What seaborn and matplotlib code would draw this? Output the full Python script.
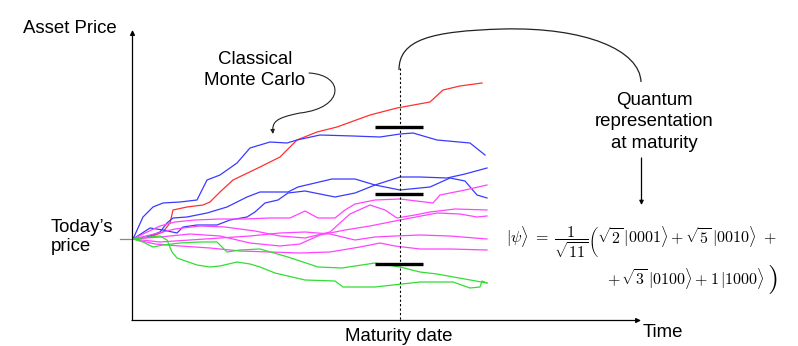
import pandas as pd
import seaborn as sns
import matplotlib.pyplot as plt
from matplotlib.path import Path
from matplotlib.patches import PathPatch, FancyArrowPatch

# all coordinates are in picture pixels (x right, y down)
red_x = [133, 150, 163, 170, 173, 187, 203, 210, 220, 233, 260, 280, 297, 317, 337, 370, 397, 430, 443, 460, 482]
red_y = [239, 237, 232, 223, 210, 207, 205, 202, 192, 180, 167, 157, 140, 132, 127, 115, 108, 102, 90, 86, 83]

blue_a_x = [133, 143, 153, 163, 180, 197, 202, 207, 220, 237, 250, 270, 287, 297, 320, 353, 380, 400, 413, 437, 470, 485]
blue_a_y = [239, 217, 207, 203, 202, 200, 190, 180, 175, 163, 148, 142, 143, 140, 135, 136, 137, 134, 133, 140, 143, 155]

blue_b_x = [133, 147, 160, 167, 173, 187, 207, 227, 247, 260, 288, 298, 332, 355, 375, 400, 430, 450, 465, 477, 487]
blue_b_y = [239, 237, 232, 223, 218, 217, 213, 207, 197, 192, 192, 187, 179, 179, 185, 190, 187, 178, 181, 195, 198]

blue_c_x = [133, 150, 163, 177, 183, 197, 217, 230, 247, 255, 265, 278, 288, 305, 335, 355, 375, 400, 420, 447, 465, 487]
blue_c_y = [239, 228, 230, 233, 227, 225, 225, 220, 217, 212, 203, 200, 193, 191, 197, 193, 185, 177, 177, 178, 174, 168]

mag1_x = [133, 145, 160, 175, 195, 220, 245, 270, 290, 305, 318, 335, 345, 355, 375, 400, 433, 440, 465, 487]
mag1_y = [239, 233, 226, 222, 220, 219, 219, 218, 218, 211, 218, 218, 210, 204, 200, 199, 203, 195, 190, 185]

mag2_x = [133, 150, 175, 200, 225, 255, 280, 305, 330, 350, 370, 385, 397, 415, 430, 455, 487]
mag2_y = [239, 235, 229, 226, 227, 231, 236, 238, 232, 214, 205, 210, 218, 215, 212, 209, 210]

mag3_x = [133, 160, 190, 220, 250, 280, 300, 320, 345, 370, 400, 437, 460, 477, 487]
mag3_y = [239, 237, 234, 236, 243, 246, 244, 235, 230, 226, 220, 213, 214, 217, 216]

mag4_x = [133, 160, 190, 220, 250, 280, 305, 330, 355, 375, 395, 420, 450, 487]
mag4_y = [239, 242, 240, 238, 236, 233, 232, 234, 240, 237, 236, 235, 236, 239]

mag5_x = [133, 155, 180, 210, 240, 270, 300, 330, 360, 380, 395, 420, 450, 487]
mag5_y = [239, 244, 246, 248, 251, 252, 253, 252, 247, 243, 246, 249, 249, 250]

green1_x = [133, 143, 153, 163, 180, 200, 217, 227, 240, 260, 288, 318, 342, 375, 400, 420, 437, 487]
green1_y = [239, 242, 247, 245, 243, 242, 242, 252, 250, 249, 257, 267, 268, 263, 267, 272, 274, 283]

green2_x = [133, 150, 160, 167, 172, 177, 197, 210, 220, 237, 250, 260, 275, 305, 335, 343, 375, 420, 453, 470, 480, 482, 487]
green2_y = [239, 237, 236, 240, 252, 258, 265, 267, 266, 262, 264, 267, 273, 280, 281, 287, 287, 282, 282, 288, 287, 281, 283]

bar_y = [127, 194, 264]

paths = {
    'red': (red_x, red_y, '#ff3030'),
    'blue_a': (blue_a_x, blue_a_y, '#3a3aff'),
    'blue_b': (blue_b_x, blue_b_y, '#3a3aff'),
    'blue_c': (blue_c_x, blue_c_y, '#3a3aff'),
    'mag1': (mag1_x, mag1_y, '#ff44ff'),
    'mag2': (mag2_x, mag2_y, '#ff44ff'),
    'mag3': (mag3_x, mag3_y, '#ff44ff'),
    'mag4': (mag4_x, mag4_y, '#ff44ff'),
    'mag5': (mag5_x, mag5_y, '#ff44ff'),
    'green1': (green1_x, green1_y, '#33dd33'),
    'green2': (green2_x, green2_y, '#33dd33'),
}

rows = []
for name, (xs, ys, _) in paths.items():
    for x, y in zip(xs, ys):
        rows.append({'path': name, 'x': x, 'y': y})
df = pd.DataFrame(rows)
palette = {name: c for name, (_, _, c) in paths.items()}

plt.rcParams['font.family'] = ['Liberation Sans', 'DejaVu Sans']
plt.rcParams['mathtext.fontset'] = 'cm'

fig = plt.figure(figsize=(7.98, 3.46), dpi=100)
ax = fig.add_axes([0, 0, 1, 1])

sns.lineplot(data=df, x='x', y='y', hue='path', palette=palette,
             estimator=None, sort=False, lw=0.9, legend=False, ax=ax)

ax.set_xlim(0, 798)
ax.set_ylim(346, 0)
ax.axis('off')

# axes with arrows
arrow_kw = dict(arrowstyle='-|>', color='black', lw=0.9, mutation_scale=7, shrinkA=0, shrinkB=0)
ax.annotate('', xy=(132.5, 30), xytext=(132.5, 320.5), arrowprops=arrow_kw)
ax.annotate('', xy=(641, 320.5), xytext=(132, 320.5), arrowprops=arrow_kw)
ax.plot([120, 132], [239, 239], color='#888888', lw=0.9)

# maturity line + bars
ax.plot([400, 400], [68, 320], color='black', lw=0.8, ls=(0, (2, 2)))
for yb in bar_y:
    ax.plot([375, 423], [yb, yb], color='black', lw=2.4, solid_capstyle='butt')

# connector arc to quantum label
arc = Path([(399, 70), (399, 40), (430, 31), (503, 29), (585, 27), (640, 50), (641, 82)],
           [Path.MOVETO] + [Path.CURVE4] * 6)
ax.add_patch(PathPatch(arc, fill=False, color='#222222', lw=0.9))

# curved arrow from "Classical Monte Carlo"
mc = Path([(309, 73), (345, 75), (345, 108), (300, 113), (275, 118), (272, 122), (273, 134)],
          [Path.MOVETO] + [Path.CURVE4] * 6)
ax.add_patch(FancyArrowPatch(path=mc, arrowstyle='-|>', mutation_scale=6, lw=0.8, color='#222222'))

ax.annotate('', xy=(641.5, 205), xytext=(641.5, 158), arrowprops=dict(arrowstyle='-|>', color='black', lw=0.9, mutation_scale=6, shrinkA=0, shrinkB=0))

fs = 13.4
ax.text(23, 33, 'Asset Price', fontsize=fs, va='baseline')
ax.text(255, 70, 'Classical\nMonte Carlo', fontsize=fs, ha='center', va='center', linespacing=1.33)
ax.text(51, 237, 'Today\u2019s\nprice', fontsize=fs, ha='left', va='center', linespacing=1.2)
ax.text(399, 341, 'Maturity date', fontsize=fs, ha='center', va='baseline')
ax.text(643, 337, 'Time', fontsize=fs, va='baseline')
ax.text(654, 122, 'Quantum\nrepresentation\nat maturity', fontsize=fs, ha='center', va='center', linespacing=1.33)

# equation
efs = 11.5
ax.text(506, 244, r'$|\psi\rangle\;=\;\left.\dfrac{1}{\sqrt{11}}\right(\sqrt{2}\,|0001\rangle + \sqrt{5}\,|0010\rangle\ +$',
        fontsize=efs, ha='left', va='baseline')
ax.text(765, 285, r'$+\,\sqrt{3}\,|0100\rangle + 1\,|1000\rangle$', fontsize=efs, ha='right', va='baseline')
ax.text(767, 280, r'$)$', fontsize=21, ha='left', va='center')

fig.savefig('out.png', dpi=100)
